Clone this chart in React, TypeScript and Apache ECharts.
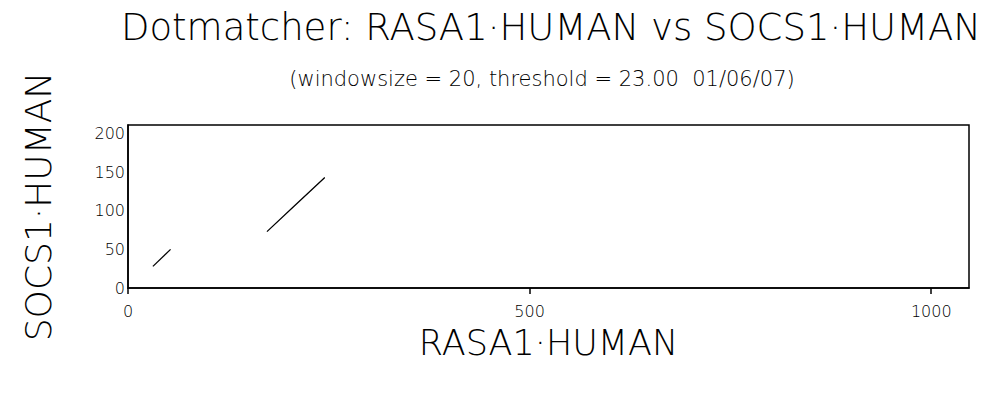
import React, { useEffect, useRef } from "react";
import * as echarts from "echarts";

const titleText = "Dotmatcher: RASA1·HUMAN vs SOCS1·HUMAN";
const subtitleText = "(windowsize = 20, threshold = 23.00  01/06/07)";
const xName = "RASA1·HUMAN";
const yName = "SOCS1·HUMAN";
const xMax = 1047;
const yMax = 211;
const xInterval = 500;
const yInterval = 50;

const match1: [number, number][] = [
  [31, 28],
  [53, 50],
];
const match2: [number, number][] = [
  [173, 73],
  [208, 107],
  [245, 143],
];

const FONT = "DejaVu Sans";

export default function App() {
  const ref = useRef<HTMLDivElement>(null);
  useEffect(() => {
    if (!ref.current) return;
    const chart = echarts.init(ref.current, undefined, { renderer: "svg" });
    chart.setOption({
      animation: false,
      backgroundColor: "#ffffff",
      title: [
        {
          text: titleText,
          left: 546,
          top: 4,
          textAlign: "center",
          textStyle: { fontFamily: FONT, fontSize: 37, fontWeight: 200, color: "#000" },
        },
        {
          text: subtitleText,
          left: 537,
          top: 63,
          textAlign: "center",
          textStyle: { fontFamily: FONT, fontSize: 21, fontWeight: 200, color: "#000" },
        },
      ],
      grid: { left: 128, right: 31, top: 125, bottom: 121, show: true, borderColor: "#000", borderWidth: 1.5 },
      xAxis: {
        type: "value",
        min: 0,
        max: xMax,
        interval: xInterval,
        name: xName,
        nameLocation: "middle",
        nameGap: 37,
        nameTextStyle: { fontFamily: FONT, fontSize: 35, fontWeight: 200, color: "#000", lineHeight: 35 },
        axisLine: { show: true, onZero: false, lineStyle: { color: "#000", width: 1.5 } },
        axisTick: { show: true, inside: false, length: 6, lineStyle: { color: "#000", width: 1.5 } },
        axisLabel: {
          show: true,
          showMaxLabel: false,
          fontFamily: FONT,
          fontSize: 16,
          fontWeight: 200,
          color: "#000",
          margin: 15,
          formatter: (v: number) => String(v),
        },
        splitLine: { show: false },
      },
      yAxis: {
        type: "value",
        min: 0,
        max: yMax,
        interval: yInterval,
        name: yName,
        nameLocation: "middle",
        nameGap: 72,
        nameRotate: 90,
        nameTextStyle: { fontFamily: FONT, fontSize: 36, fontWeight: 200, color: "#000" },
        axisLine: { show: true, lineStyle: { color: "#000", width: 1.5 } },
        axisTick: { show: false },
        axisLabel: {
          show: true,
          showMaxLabel: false,
          fontFamily: FONT,
          fontSize: 16,
          fontWeight: 200,
          color: "#000",
          margin: 3,
          formatter: (v: number) => String(v),
        },
        splitLine: { show: false },
      },
      series: [
        {
          type: "line",
          data: match1,
          showSymbol: false,
          symbol: "none",
          lineStyle: { color: "#000", width: 1.3 },
        },
        {
          type: "line",
          data: match2,
          showSymbol: false,
          symbol: "none",
          lineStyle: { color: "#000", width: 1.3 },
        },
      ],
    });
    return () => chart.dispose();
  }, []);
  return <div ref={ref} style={{ width: 1000, height: 409, margin: -8 }} />;
}
